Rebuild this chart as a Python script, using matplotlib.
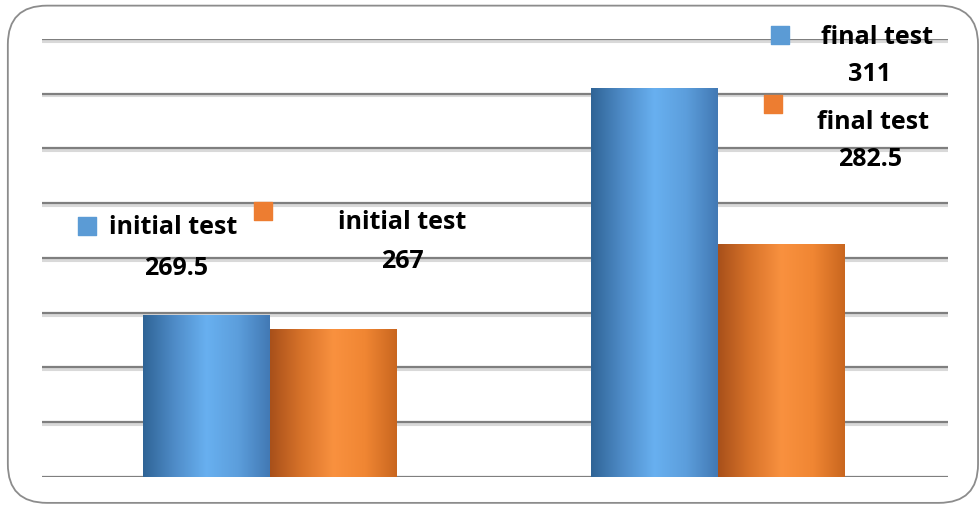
import numpy as np
import matplotlib.pyplot as plt
from matplotlib.colors import LinearSegmentedColormap
from matplotlib.patches import FancyBboxPatch

groups = ['initial test', 'final test']
blue_vals = [269.5, 311]
orange_vals = [267, 282.5]

fig = plt.figure(figsize=(9.8, 5.1), dpi=100)
fig.patch.set_facecolor('white')
# rounded frame around the whole chart
frame = FancyBboxPatch((0.008, 0.012), 0.99, 0.975, boxstyle='round,pad=0,rounding_size=0.04',
                       transform=fig.transFigure, facecolor='none', edgecolor='#8c8c8c',
                       linewidth=1.3, mutation_aspect=1.9, zorder=-1)
fig.patches.append(frame)

ax = fig.add_axes([0.043, 0.063, 0.924, 0.859])
ax.set_facecolor('none')
for s in ax.spines.values():
    s.set_visible(False)
ax.set_xticks([])
ax.set_yticks([])

# gridlines with a soft shadow
for y in np.arange(240, 321, 10):
    ax.axhline(y - 0.35, color='#d9d9d9', lw=2.2, zorder=1)
    ax.axhline(y, color='#7f7f7f', lw=1.6, zorder=1)

blue_cmap = LinearSegmentedColormap.from_list('b', ['#2f6496', '#4f8cc8', '#68b0f0', '#5c9edc', '#4279b4'])
orange_cmap = LinearSegmentedColormap.from_list('o', ['#a8501a', '#d8732a', '#f9913f', '#f08633', '#c9661f'])

w = 0.283
x = np.arange(len(groups))
grad = np.linspace(0, 1, 256).reshape(1, -1)
for vals, off, cmap in [(blue_vals, -w / 2, blue_cmap), (orange_vals, w / 2, orange_cmap)]:
    bars = ax.bar(x + off, vals, width=w, bottom=0, color='none', zorder=2)
    for b in bars:
        x0, x1 = b.get_x(), b.get_x() + b.get_width()
        im = ax.imshow(grad, cmap=cmap, aspect='auto', extent=(x0, x1, 240, b.get_height()),
                       zorder=2)
        im.set_clip_path(b)
ax.set_ylim(240, 320)
ax.set_xlim(-0.509, 1.513)

fs = 18
fam = 'Open Sans'
# data labels with legend keys (axes fraction positions)
labels = [
    (groups[0], blue_vals[0], '#5b9bd5', (0.050, 0.573), (0.145, 0.571), (0.148, 0.479)),
    (groups[0], orange_vals[0], '#ed7d31', (0.244, 0.607), (0.398, 0.582), (0.398, 0.493)),
    (groups[1], blue_vals[1], '#5b9bd5', (0.815, 1.009), (0.922, 1.005), (0.914, 0.920)),
    (groups[1], orange_vals[1], '#ed7d31', (0.807, 0.852), (0.917, 0.811), (0.914, 0.726)),
]
for name, val, col, sq, tpos, vpos in labels:
    ax.scatter([sq[0]], [sq[1]], s=150, marker='s', color=col, transform=ax.transAxes,
               clip_on=False, zorder=4)
    ax.text(tpos[0], tpos[1], name, transform=ax.transAxes, ha='center', va='center',
            fontsize=fs, fontweight='bold', family=fam, zorder=5)
    ax.text(vpos[0], vpos[1], f'{val:g}', transform=ax.transAxes, ha='center', va='center',
            fontsize=fs, fontweight='bold', family=fam, zorder=5)

fig.savefig('out.png', dpi=100)
